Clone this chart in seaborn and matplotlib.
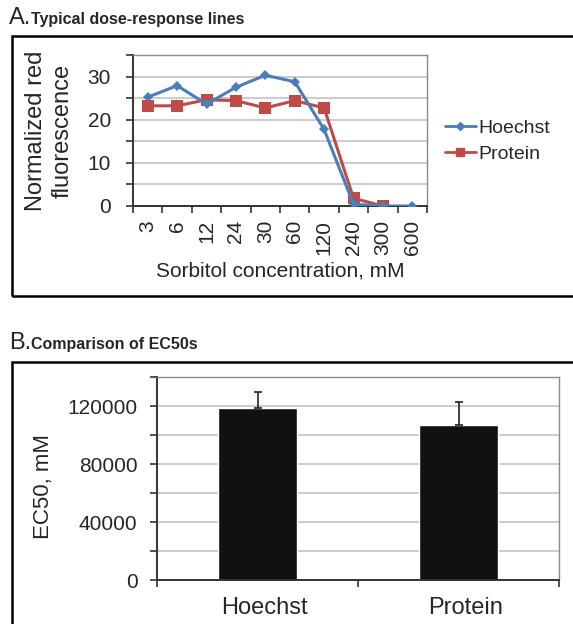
import numpy as np
import pandas as pd
import matplotlib
matplotlib.use("Agg")
import matplotlib.pyplot as plt
from matplotlib.patches import Rectangle
from matplotlib.lines import Line2D
from matplotlib.transforms import ScaledTranslation
import seaborn as sns

# Panel A: dose-response values
concentrations = ["3", "6", "12", "24", "30", "60", "120", "240", "300", "600"]
hoechst = [25.3, 28.0, 23.7, 27.6, 30.4, 28.9, 17.8, 0.4, 0.0, 0.0]
protein = [23.3, 23.3, 24.7, 24.5, 22.8, 24.5, 22.8, 1.8, 0.0, np.nan]

# Panel B: EC50 comparison
groups = ["Hoechst", "Protein"]
ec50 = [118500, 107000]
ec50_err = [11500, 16000]

sns.set_theme(style="white")
plt.rcParams["font.family"] = ["Liberation Sans", "DejaVu Sans"]

blue = "#4a7ebb"
red = "#be4b48"
grid_col = "#c8c8c8"

fig = plt.figure(figsize=(5.73, 6.24), dpi=100)
W, H = 573.0, 624.0


def fig_rect(left, top, right, bottom):
    return [left / W, 1 - bottom / H, (right - left) / W, (bottom - top) / H]


def style_axes(ax):
    ax.set_facecolor("white")
    for side in ["left", "bottom"]:
        ax.spines[side].set_color("#333333")
        ax.spines[side].set_linewidth(1.4)
    for side in ["top", "right"]:
        ax.spines[side].set_color("#8a8a8a")
        ax.spines[side].set_linewidth(1.0)
    ax.yaxis.grid(True, color=grid_col, linewidth=1.3)
    ax.set_axisbelow(True)


# ---------- Panel A ----------
df_a = pd.DataFrame({
    "conc": concentrations * 2,
    "value": hoechst + protein,
    "series": ["Hoechst"] * len(concentrations) + ["Protein"] * len(concentrations),
})

ax1 = fig.add_axes(fig_rect(133, 55.5, 427, 206))
style_axes(ax1)
sns.lineplot(data=df_a, x="conc", y="value", hue="series", style="series",
             hue_order=["Protein", "Hoechst"],
             palette={"Hoechst": blue, "Protein": red},
             markers={"Hoechst": "D", "Protein": "s"}, dashes=False,
             linewidth=2.2, markeredgewidth=0, legend=False, ax=ax1)
for line in ax1.lines:
    if line.get_color() == red:
        line.set_markersize(8)
    else:
        line.set_markersize(5)
        line.set_zorder(3)

ax1.set_xlim(-0.5, len(concentrations) - 0.5)
ax1.set_ylim(0, 35)
ax1.set_yticks(np.arange(0, 36, 5))
ax1.set_yticklabels([str(v) if v % 10 == 0 else "" for v in range(0, 36, 5)])
ax1.set_xticks(range(len(concentrations)))
ax1.set_xticklabels(concentrations, rotation=90)
ax1.set_xticks(np.arange(-0.5, len(concentrations), 1), minor=True)
ax1.tick_params(axis="x", which="major", length=0, pad=10, labelsize=15)
ax1.tick_params(axis="x", which="minor", length=5, width=1.2, color="#333333",
                direction="out", bottom=True)
ax1.tick_params(axis="y", length=5, width=1.2, color="#333333", direction="out",
                left=True, labelsize=15, pad=11)
ax1.set_xlabel("Sorbitol concentration, mM", fontsize=15, labelpad=5)
ax1.set_ylabel("Normalized red\nfluorescence", fontsize=17, labelpad=10,
               linespacing=1.25)

handles = [Line2D([], [], color=blue, marker="D", markersize=4, linewidth=2),
           Line2D([], [], color=red, marker="s", markersize=6, linewidth=2)]
fig.legend(handles, groups, loc="center left", frameon=False,
           bbox_to_anchor=(437 / W, 1 - 141 / H), fontsize=14,
           handlelength=1.6, handletextpad=0.15, labelspacing=0.45,
           borderaxespad=0)

fig.text(9 / W, 1 - 24 / H, "A.", fontsize=17, ha="left", va="baseline")
fig.text(31 / W, 1 - 24 / H, "Typical dose-response lines", fontsize=11.5,
         fontweight="bold", ha="left", va="baseline")
fig.add_artist(Rectangle((12 / W, 1 - 296 / H), 600 / W, 260 / H,
                         transform=fig.transFigure, fill=False,
                         edgecolor="black", linewidth=1.8))

# ---------- Panel B ----------
df_b = pd.DataFrame({"group": groups, "ec50": ec50, "err": ec50_err})

ax2 = fig.add_axes(fig_rect(157, 377, 559, 580))
style_axes(ax2)
sns.barplot(data=df_b, x="group", y="ec50", color="#111111", width=0.39,
            errorbar=None, saturation=1, ax=ax2)
ax2.errorbar(x=range(len(groups)), y=df_b["ec50"],
             yerr=[np.zeros(len(groups)), df_b["err"]],
             fmt="none", ecolor="#222222", elinewidth=1.2, capsize=3, capthick=1.2)

ax2.set_xlim(-0.5, len(groups) - 0.5)
ax2.set_ylim(0, 140000)
ax2.set_yticks(np.arange(0, 140001, 20000))
ax2.set_yticklabels([str(v) if v % 40000 == 0 else "" for v in range(0, 140001, 20000)])
ax2.set_xticks(np.arange(-0.5, len(groups), 1), minor=True)
ax2.tick_params(axis="x", which="major", length=0, pad=12, labelsize=17)
ax2.tick_params(axis="x", which="minor", length=5, width=1.2, color="#333333",
                direction="out", bottom=True)
ax2.tick_params(axis="y", length=5, width=1.2, color="#333333", direction="out",
                left=True, labelsize=15, pad=9)
# category labels sit a little right of the bar centres in the original
for lab in ax2.get_xticklabels():
    lab.set_transform(lab.get_transform() + ScaledTranslation(7 / 100, 0, fig.dpi_scale_trans))
ax2.set_xlabel("")
ax2.set_ylabel("EC50, mM", fontsize=16, labelpad=10)
ax2.yaxis.label.set_y(0.46)

fig.text(9 / W, 1 - 349 / H, "B.", fontsize=17, ha="left", va="baseline")
fig.text(31 / W, 1 - 349 / H, "Comparison of EC50s", fontsize=11.5,
         fontweight="bold", ha="left", va="baseline")
fig.add_artist(Rectangle((12 / W, -0.05), 600 / W, (624 - 362) / H + 0.05,
                         transform=fig.transFigure, fill=False,
                         edgecolor="black", linewidth=1.8))

fig.savefig("out.png", dpi=100)
